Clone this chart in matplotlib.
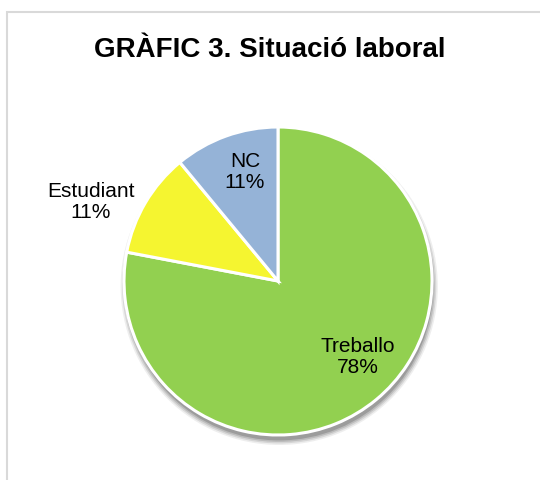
import matplotlib
matplotlib.use('Agg')
import matplotlib.pyplot as plt
from matplotlib.patches import Rectangle, Circle

plt.rcParams['font.family'] = ['Liberation Sans', 'DejaVu Sans']

# data
categories = ['Treballo', 'Estudiant', 'NC']
values = [78, 11, 11]
colors = ['#92D050', '#F5F530', '#95B3D7']
# label positions (pixels relative to pie centre, y up)
label_dx = [80, -187, -33]
label_dy = [-76, 79, 109]

W, H = 540, 480
fig = plt.figure(figsize=(W / 100, H / 100), dpi=100)

# chart frame
fig.patches.append(Rectangle((7 / W, -0.1), 1.2, 0.975 + 0.1, transform=fig.transFigure,
                             fill=False, edgecolor='#D9D9D9', linewidth=1.5))

fig.text(270 / W, 1 - 50 / H, 'GRÀFIC 3. Situació laboral', ha='center', va='center',
         fontsize=20, fontweight='bold', color='black')

cx, cy, r = 278, H - 281, 154
ax = fig.add_axes([(cx - r) / W, (cy - r) / H, 2 * r / W, 2 * r / H])

# soft shadow (below / slightly right)
for i, a in enumerate([0.08, 0.12, 0.16, 0.22]):
    ax.add_patch(Circle((0.008, -0.035), 1.03 - i * 0.01, color='#303030', alpha=a,
                        linewidth=0, zorder=0, clip_on=False))

wedges, _ = ax.pie(values, colors=colors, startangle=90, counterclock=False,
                   radius=1.0, wedgeprops=dict(edgecolor='white', linewidth=2.2))
for w in wedges:
    w.set_clip_on(False)
ax.set_xlim(-1, 1)
ax.set_ylim(-1, 1)
ax.axis('off')

for i, cat in enumerate(categories):
    ax.text(label_dx[i] / r, label_dy[i] / r, '%s\n%d%%' % (cat, values[i]),
            ha='center', va='center', fontsize=15, linespacing=1.1, color='black')

fig.savefig('out.png', dpi=100)
